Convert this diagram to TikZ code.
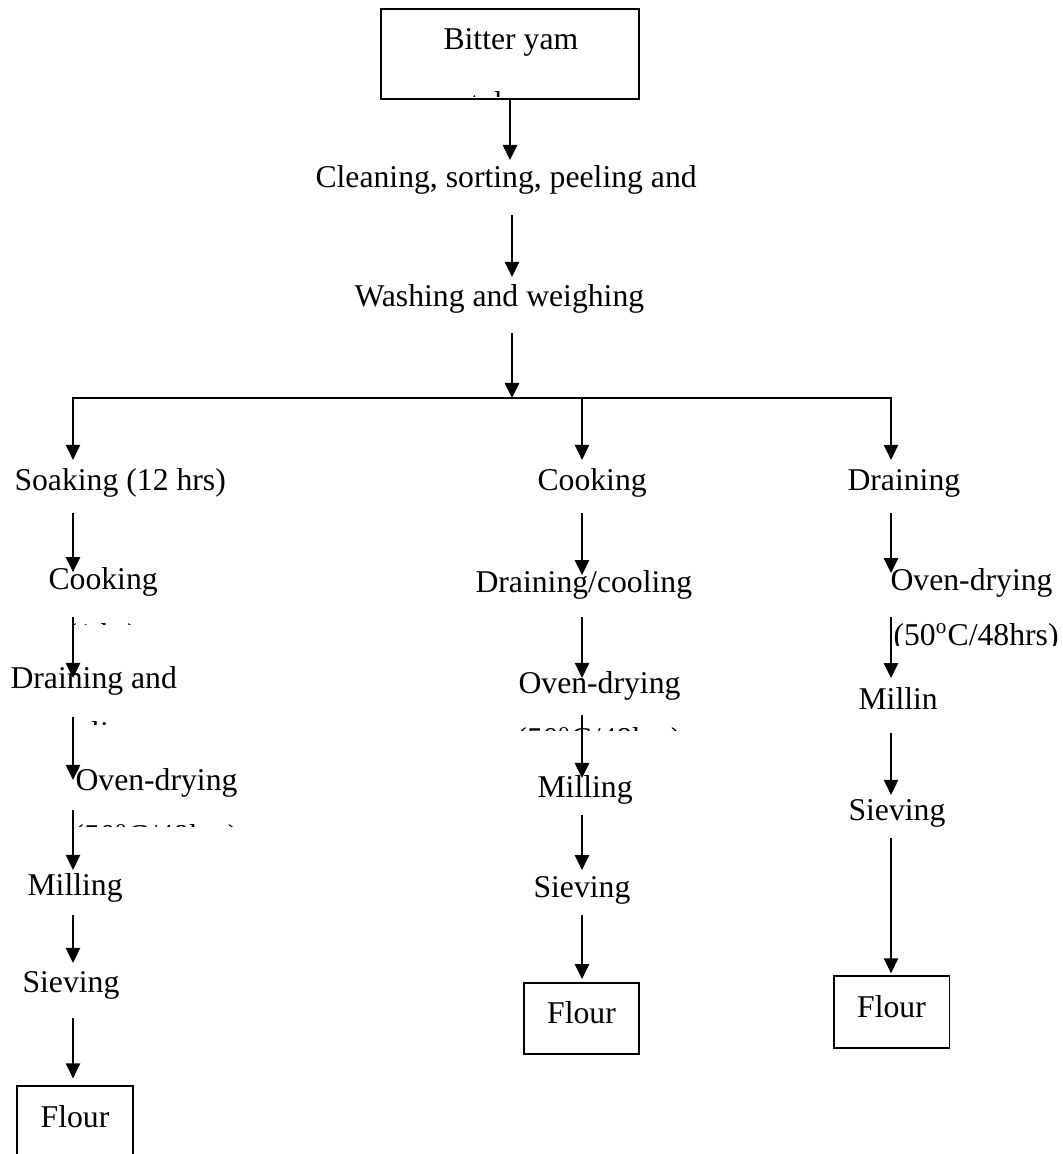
\documentclass[tikz,border=0pt]{standalone}
\usepackage{fontspec}
\setmainfont{Liberation Serif}
\usetikzlibrary{arrows.meta}

\begin{document}
\begin{tikzpicture}[x=0.3786pt,y=-0.3786pt,
	every node/.style={font=\fontsize{12}{14}\selectfont},
	stage/.style={anchor=base west,inner sep=0pt},
	cut/.style={anchor=base,inner sep=0pt},
	boxed/.style={draw,line width=0.75pt,inner sep=0pt,minimum width=43.9pt,minimum height=26.9pt,text depth=4.5pt},
	flow/.style={line width=0.75pt,-{Triangle[length=5.7pt,width=5.4pt]}}]
	\useasboundingbox (0,0) rectangle (1062,1154);
	\clip (0,0) rectangle (1062,1154);

	% raw material and common steps
	\node[draw,line width=0.75pt,minimum width=97.7pt,minimum height=34.1pt] (yam) at (510,54) {};
	\node[stage] (yamname) at (443,50) {Bitter yam};
	\begin{scope}
		\clip (381,60) rectangle (639,97);
		\node[cut] (yamcut) at (509,114) {tubers};
	\end{scope}
	\node[stage] (clean) at (315,188) {Cleaning, sorting, peeling and};
	\node[stage] (wash) at (354,307) {Washing and weighing};

	\coordinate (split) at (512,398);
	\coordinate (brL) at (73,398);
	\coordinate (brM) at (582,398);
	\coordinate (brR) at (891,398);

	\draw[flow,shorten >=10.6pt] (yam.south) -- (clean.base -| yam.south);
	\draw[flow,shorten <=10.2pt,shorten >=11.4pt] (clean.base -| split) -- (wash.base -| split);
	\draw[flow,shorten <=9.8pt] (wash.base -| split) -- (split);
	\draw[line width=0.75pt,line cap=rect] (brL) -- (brR);

	% soaked sample
	\node[stage] (soak) at (14,490) {Soaking (12 hrs)};
	\node[stage] (cookA) at (48,589) {Cooking};
	\begin{scope}
		\clip (0,600) rectangle (300,624);
		\node[cut] (cookAcut) at (102,645) {(1 hr)};
	\end{scope}
	\node[stage] (drainA) at (10,688) {Draining and};
	\begin{scope}
		\clip (0,700) rectangle (300,724);
		\node[cut] (drainAcut) at (93,743) {cooling};
	\end{scope}
	\node[stage] (ovenA) at (75,790) {Oven-drying};
	\begin{scope}
		\clip (0,800) rectangle (300,826);
		\node[cut] (ovenAcut) at (156,846) {(50\textsuperscript{o}C/48hrs)};
	\end{scope}
	\node[stage] (millA) at (27,895) {Milling};
	\node[stage] (sieveA) at (22,992) {Sieving};
	\node[boxed] (flourA) at (75,1122) {Flour};

	\draw[flow,shorten >=11.4pt] (brL) -- (soak.base -| brL);
	\draw[flow,shorten <=8.7pt,shorten >=6.4pt] (soak.base -| brL) -- (cookA.base -| brL);
	\draw[flow,shorten <=10.6pt,shorten >=3.8pt] (cookA.base -| brL) -- (drainA.base -| brL);
	\draw[flow,shorten <=11pt,shorten >=3.8pt] (drainA.base -| brL) -- (ovenA.base -| brL);
	\draw[flow,shorten <=7.6pt,shorten >=9.5pt] (ovenA.base -| brL) -- (millA.base -| brL);
	\draw[flow,shorten <=7.6pt,shorten >=11pt] (millA.base -| brL) -- (sieveA.base -| brL);
	\draw[flow,shorten <=9.8pt,shorten >=2.7pt] (sieveA.base -| brL) -- (flourA.north -| brL);

	% cooked sample
	\node[stage] (cookB) at (537,490) {Cooking};
	\node[stage] (drainB) at (475,592) {Draining/cooling};
	\node[stage] (ovenB) at (518,693) {Oven-drying};
	\begin{scope}
		\clip (450,705) rectangle (720,730);
		\node[cut] (ovenBcut) at (599,749) {(50\textsuperscript{o}C/48hrs)};
	\end{scope}
	\node[stage] (millB) at (537,797) {Milling};
	\node[stage] (sieveB) at (533,897) {Sieving};
	\node[boxed] (flourB) at (581.5,1018.5) {Flour};

	\draw[flow,shorten >=11.4pt] (brM) -- (cookB.base -| brM);
	\draw[flow,shorten <=8.7pt,shorten >=6.4pt] (cookB.base -| brM) -- (drainB.base -| brM);
	\draw[flow,shorten <=9.5pt,shorten >=5.7pt] (drainB.base -| brM) -- (ovenB.base -| brM);
	\draw[flow,shorten <=8.3pt,shorten >=7.2pt] (ovenB.base -| brM) -- (millB.base -| brM);
	\draw[flow,shorten <=6.8pt,shorten >=10.2pt] (millB.base -| brM) -- (sieveB.base -| brM);
	\draw[flow,shorten <=6.8pt,shorten >=1.1pt] (sieveB.base -| brM) -- (flourB.north -| brM);

	% drained sample
	\node[stage] (drainC) at (847,490) {Draining};
	\node[stage] (ovenC) at (890,590) {Oven-drying};
	\begin{scope}
		\clip (850,600) rectangle (1062,645);
		\node[stage] (tempC) at (893,645) {(50\textsuperscript{o}C/48hrs)};
	\end{scope}
	\node[stage] (millC) at (858,709) {Millin};
	\node[stage] (sieveC) at (848,820) {Sieving};
	\node[boxed] (flourC) at (891.5,1012) {Flour};

	\draw[flow,shorten >=11.4pt] (brR) -- (drainC.base -| brR);
	\draw[flow,shorten <=8.7pt,shorten >=6.4pt] (drainC.base -| brR) -- (ovenC.base -| brR);
	\draw[flow,shorten <=10.2pt,shorten >=11.7pt] (ovenC.base -| brR) -- (millC.base -| brR);
	\draw[flow,shorten <=9.1pt,shorten >=9.5pt] (millC.base -| brR) -- (sieveC.base -| brR);
	\draw[flow,shorten <=6.8pt,shorten >=0.8pt] (sieveC.base -| brR) -- (flourC.north -| brR);
\end{tikzpicture}
\end{document}
